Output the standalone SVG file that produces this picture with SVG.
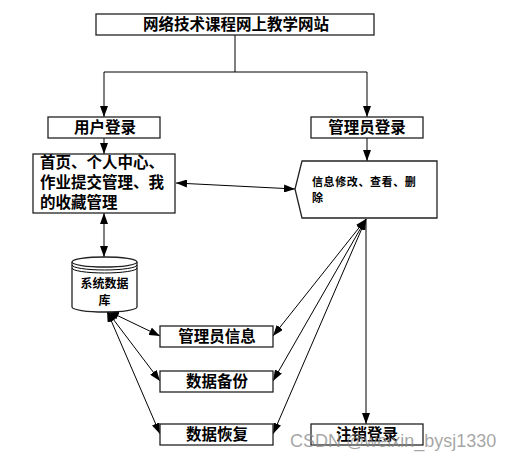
<svg xmlns="http://www.w3.org/2000/svg" width="521" height="460" viewBox="0 0 521 460">
<defs>
<marker id="ah" viewBox="0 0 11 8" markerWidth="11" markerHeight="8" markerUnits="userSpaceOnUse" refX="11" refY="4" orient="auto-start-reverse">
<path d="M0,0 L11,4 L0,8 z" fill="#000"/>
</marker>
<style>
.box{fill:#fff;stroke:#222;stroke-width:1.3}
.t{font-family:"Noto Sans CJK SC","Liberation Sans",sans-serif;font-weight:bold;fill:#000;text-anchor:middle;font-size:15.5px}
.tl{font-family:"Noto Sans CJK SC","Liberation Sans",sans-serif;font-weight:bold;fill:#000;font-size:15.5px}
.ts{font-family:"Noto Sans CJK SC","Liberation Sans",sans-serif;font-weight:bold;fill:#000;font-size:11px;letter-spacing:0.6px}
.c{fill:none;stroke:#000;stroke-width:1}
.a{marker-end:url(#ah)}
.d{marker-start:url(#ah);marker-end:url(#ah)}
</style>
</defs>
<rect width="521" height="460" fill="#fff"/>
<g id="connectors">
<path class="c" d="M235,35 V72 M104,72 H367"/>
<path class="c a" d="M104,72 V117"/>
<path class="c a" d="M367,72 V117"/>
<path class="c a" d="M104,138 V154"/>
<path class="c a" d="M367,138 V161"/>
<path class="c d" d="M176,183 L295,189"/>
<path class="c d" d="M104,213 V257"/>
<path class="c a" d="M366,219 V424"/>
<path class="c d" d="M366,219 L273,336"/>
<path class="c d" d="M366,219 L273,381"/>
<path class="c d" d="M366,219 L273,434"/>
<path class="c d" d="M108,311 L160,336"/>
<path class="c d" d="M107,311 L160,381"/>
<path class="c d" d="M107,311 L160,434"/>
</g>
<g id="n-title">
<rect class="box" x="96" y="14" width="278" height="21"/>
<text class="t" x="236" y="30">网络技术课程网上教学网站</text>
</g>
<g id="n-user-login">
<rect class="box" x="48" y="117" width="112" height="21"/>
<text class="t" x="105" y="133">用户登录</text>
</g>
<g id="n-admin-login">
<rect class="box" x="311" y="117" width="112" height="21"/>
<text class="t" x="367" y="133">管理员登录</text>
</g>
<g id="n-user-funcs">
<rect class="box" x="33" y="154" width="142" height="59"/>
<text class="tl" x="40" y="168">首页、个人中心、</text>
<text class="tl" x="40" y="188">作业提交管理、我</text>
<text class="tl" x="40" y="208">的收藏管理</text>
</g>
<g id="n-admin-funcs">
<path class="box" d="M302,161 H437 V218 H302 L295,189 Z"/>
<text class="ts" x="312" y="186">信息修改、查看、删</text>
<text class="ts" x="312" y="202">除</text>
</g>
<g id="n-db">
<path class="box" d="M72,262 V307 A32.5,5 0 0 0 137,307 V262"/>
<ellipse class="box" cx="104.5" cy="262" rx="32.5" ry="5"/>
<path class="c" d="M72,265 A32.5,5 0 0 0 137,265 M72,268 A32.5,5 0 0 0 137,268"/>
<text class="t" x="104.5" y="288" style="font-size:12px">系统数据</text>
<text class="t" x="104.5" y="305" style="font-size:12px">库</text>
</g>
<g id="n-admin-info">
<rect class="box" x="160" y="326" width="113" height="21"/>
<text class="t" x="217" y="342">管理员信息</text>
</g>
<g id="n-backup">
<rect class="box" x="160" y="371" width="113" height="21"/>
<text class="t" x="217" y="387">数据备份</text>
</g>
<g id="n-restore">
<rect class="box" x="160" y="424" width="113" height="21"/>
<text class="t" x="217" y="440">数据恢复</text>
</g>
<g id="n-logout">
<rect class="box" x="311" y="424" width="112" height="21"/>
<text class="t" x="367" y="440">注销登录</text>
</g>
<text x="290" y="447" style="font-family:'Liberation Sans',sans-serif;font-size:18px;fill:#888;fill-opacity:0.75">CSDN @weixin_bysj1330</text>
</svg>
